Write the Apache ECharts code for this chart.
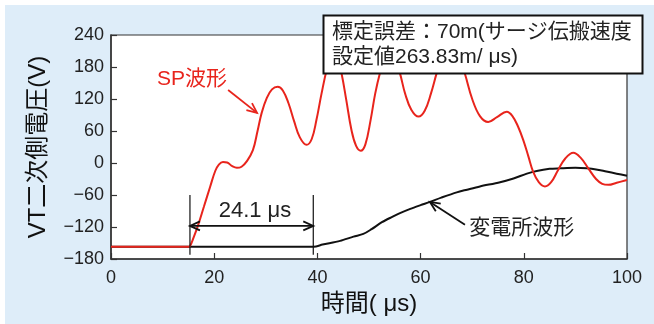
<!DOCTYPE html>
<html><head><meta charset="utf-8">
<script src="https://cdn.jsdelivr.net/npm/echarts@6/dist/echarts.min.js"></script>
<style>
html,body{margin:0;padding:0;background:#fff;}
#bg{position:absolute;left:5px;top:5px;width:649px;height:319px;background:#deedf9;}
#c{position:absolute;left:0;top:0;width:654px;height:324px;}
</style></head><body>
<div id="bg"></div><div id="c"></div>
<script>
// SP waveform (red)
const spTime = [0,15.0,15.3,16.0,16.9,18.0,19.2,20.2,20.9,21.7,22.5,23.5,24.4,25.3,26.3,27.5,28.4,29.2,30.2,31.2,32.3,33.3,34.4,35.5,36.6,37.9,38.9,39.8,40.8,41.8,42.6,43.3,44.0,44.7,45.6,46.6,47.5,48.4,49.3,50.3,51.2,52.1,53.0,54.0,55.0,56.0,57.0,58.2,59.6,60.8,62.0,63.1,64.3,65.8,67.3,68.6,70.0,71.5,73.1,74.8,76.7,77.8,78.9,79.9,80.9,81.8,82.9,84.1,85.3,86.6,88.0,89.6,91.0,92.5,94.0,95.2,96.4,98.0,100];
const spVolt = [-157,-157,-156,-140,-116,-82,-45,-15,-3,2,1,-6,-9,-7,3,24,60,94,122,138,143,136,112,78,48,34,45,80,130,175,198,203,192,167,118,62,32,23,35,80,130,168,195,205,195,168,130,100,87,98,130,168,205,222,205,167,120,88,77,86,96,88,68,43,12,-16,-36,-44,-36,-14,8,19,10,-10,-30,-39,-41,-37,-32];
// Substation waveform (black)
const subTime = [0,39.3,41,44.4,47,48.9,50.5,52.5,54.5,56,58,60,61.8,64,67,69,71.5,75.4,78,80.6,82.5,85,87,90,92.2,94,96,98,100];
const subVolt = [-157,-157,-153,-146,-138,-133,-124,-111,-101,-94,-86,-79,-73,-65,-55,-50,-44,-36,-29,-20,-15,-11,-10,-9,-10,-12,-16,-20,-24];
const xTicks = [0,20,40,60,80,100];
const yTicks = [-180,-120,-60,0,60,120,180,240];
// annotation values
const tStart = 15.3, tEnd = 39.2, delayLabel = '24.1 μs';
const boxText = '標定誤差：70m(サージ伝搬速度\n設定値263.83m/ μs)';

const FONT = '"Liberation Sans","Noto Sans CJK JP",sans-serif';
const chart = echarts.init(document.getElementById('c'));
const zip = (a,b)=>a.map((v,i)=>[v,b[i]]);
chart.setOption({
  backgroundColor:'transparent',
  animation:false,
  grid:{left:111,right:27,top:35,bottom:65,show:true,backgroundColor:'#fff',borderColor:'#333',borderWidth:1.2},
  xAxis:{type:'value',min:xTicks[0],max:xTicks[xTicks.length-1],interval:20,
    name:'時間( μs)',nameLocation:'middle',nameGap:33,
    nameTextStyle:{fontSize:24,color:'#111',fontFamily:FONT},
    axisLine:{onZero:false,lineStyle:{color:'#333',width:1.5}},
    axisTick:{inside:true,length:6,lineStyle:{color:'#333',width:1.2}},
    axisLabel:{fontSize:18,color:'#222',margin:10,fontFamily:FONT},
    splitLine:{show:false}},
  yAxis:{type:'value',min:yTicks[0],max:yTicks[yTicks.length-1],interval:60,
    name:'VT二次側電圧(V)',nameLocation:'middle',nameGap:61,
    nameTextStyle:{fontSize:24,color:'#111',fontFamily:FONT},
    axisLine:{onZero:false,lineStyle:{color:'#333',width:1.5}},
    axisTick:{inside:true,length:6,lineStyle:{color:'#333',width:1.2}},
    axisLabel:{fontSize:18,color:'#222',margin:7,fontFamily:FONT,formatter:v=>String(v).replace('-','\u2212')},
    splitLine:{show:false}},
  series:[
    {type:'line',data:zip(subTime,subVolt),showSymbol:false,smooth:0.3,lineStyle:{color:'#111',width:2},z:3},
    {type:'line',data:zip(spTime,spVolt),showSymbol:false,smooth:0.4,lineStyle:{color:'#e8241c',width:2},z:4}
  ]
});

function px(t,v){return chart.convertToPixel({gridIndex:0},[t,v]);}
function head(tip,from,color){
  const dx=tip[0]-from[0], dy=tip[1]-from[1], L=Math.hypot(dx,dy);
  const ux=dx/L, uy=dy/L, len=10, w=4.5;
  const bx=tip[0]-ux*len, by=tip[1]-uy*len;
  return {type:'polyline',z:20,shape:{points:[[bx-uy*w,by+ux*w],tip,[bx+uy*w,by-ux*w]]},style:{stroke:color,lineWidth:1.8,fill:null}};
}
function seg(a,b,color,w){return {type:'line',z:20,shape:{x1:a[0],y1:a[1],x2:b[0],y2:b[1]},style:{stroke:color,lineWidth:w}};}

const g=[];
// vertical markers
g.push(seg(px(tStart,-60),px(tStart,-172),'#111',1.2));
g.push(seg(px(tEnd,-60),px(tEnd,-172),'#111',1.2));
// double arrow
const a1=px(tStart,-118), a2=px(tEnd,-118);
g.push(seg(a1,a2,'#111',1.8));
g.push(head(a1,a2,'#111')); g.push(head(a2,a1,'#111'));
const tl=px(27.9,-90);
g.push({type:'text',z:20,x:tl[0],y:tl[1],style:{text:delayLabel,fontSize:22,fontFamily:FONT,fill:'#222',align:'center',verticalAlign:'middle'}});
// SP label + arrow
const sp=px(15.7,157.5);
g.push({type:'text',z:20,x:sp[0],y:sp[1],style:{text:'SP波形',fontSize:21,fontFamily:FONT,fill:'#e8241c',align:'center',verticalAlign:'middle'}});
const r1=px(22.7,137), r2=px(28.3,94);
g.push(seg(r1,r2,'#e8241c',1.8)); g.push(head(r2,r1,'#e8241c'));
// substation label + arrow
const sb=px(79.6,-122);
g.push({type:'text',z:20,x:sb[0],y:sb[1],style:{text:'変電所波形',fontSize:21,fontFamily:FONT,fill:'#222',align:'center',verticalAlign:'middle'}});
const b1=px(68.6,-116), b2=px(61.8,-73);
g.push(seg(b1,b2,'#111',1.8)); g.push(head(b2,b1,'#111'));
// info box
g.push({type:'rect',z:30,shape:{x:323.5,y:15.5,width:319,height:58},style:{fill:'#fff',stroke:'#111',lineWidth:2}});
g.push({type:'text',z:31,x:332,y:20,style:{text:boxText,fontSize:21,lineHeight:25,fontFamily:FONT,fill:'#222',align:'left',verticalAlign:'top'}});
chart.setOption({graphic:g});
</script>
</body></html>
